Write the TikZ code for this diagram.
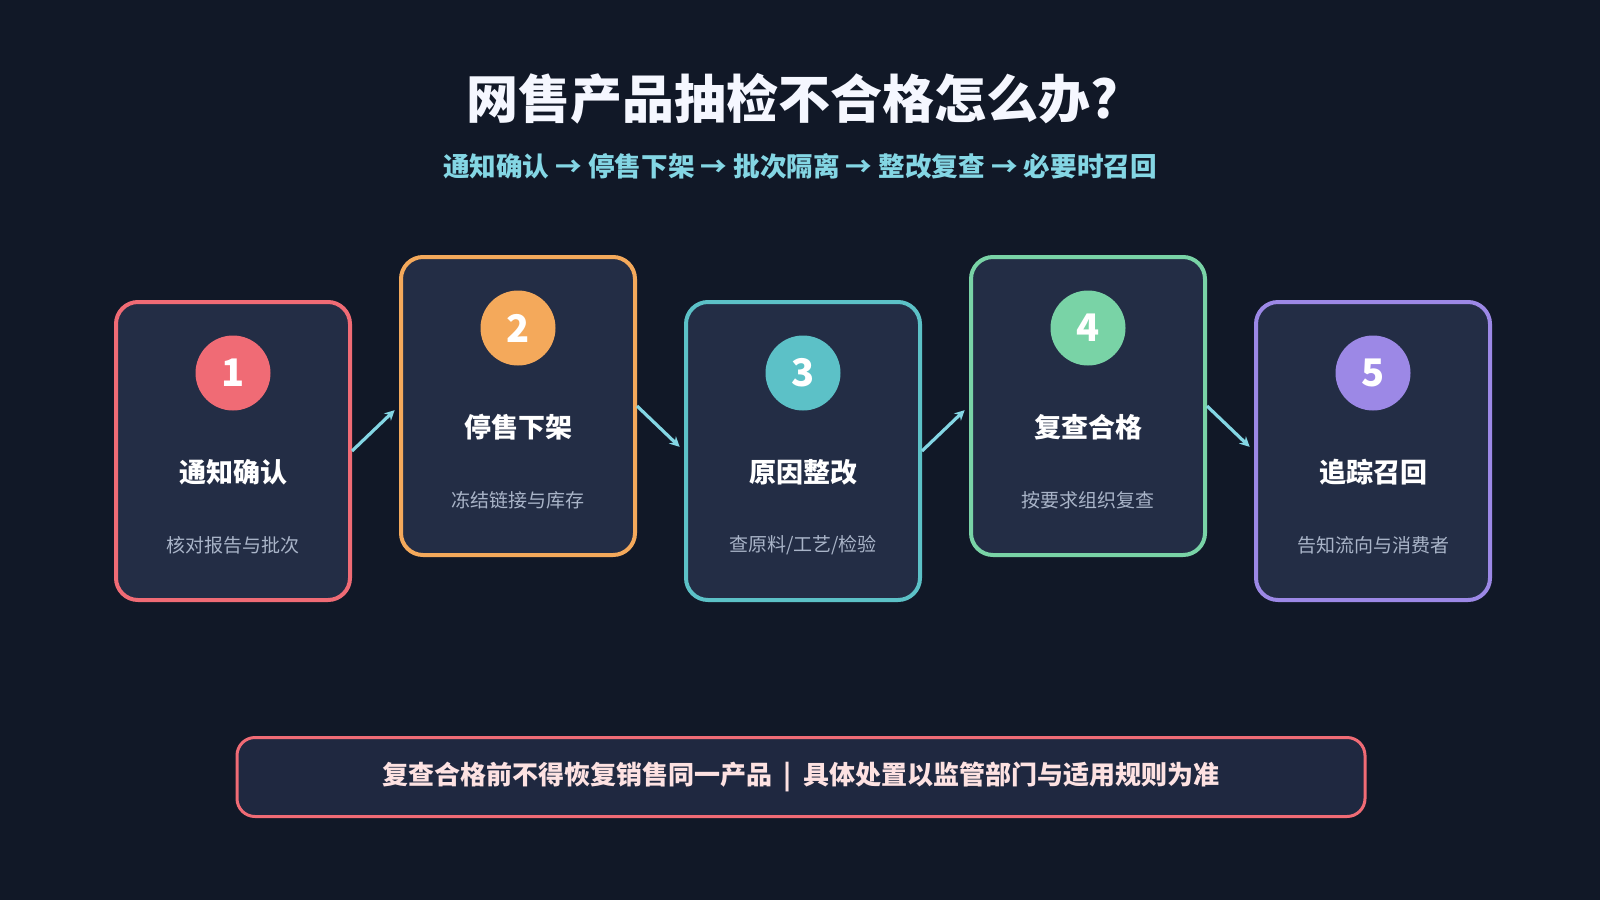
\documentclass[tikz,border=0pt]{standalone}
\usepackage{fontspec}
\setmainfont{Noto Sans CJK SC}
\usetikzlibrary{arrows.meta}
\definecolor{bgnavy}{HTML}{111827}
\definecolor{cardfill}{HTML}{232D45}
\definecolor{notefill}{HTML}{1F2840}
\definecolor{titlewhite}{HTML}{F5F7FF}
\definecolor{stepred}{HTML}{F06B75}
\definecolor{steporange}{HTML}{F4A95B}
\definecolor{stepteal}{HTML}{5CC1C7}
\definecolor{stepgreen}{HTML}{79D3A6}
\definecolor{steppurple}{HTML}{9C88E6}
\definecolor{flowcyan}{HTML}{84D6E4}
\definecolor{subgray}{HTML}{A9B4C8}
\definecolor{notepink}{HTML}{FDE2E2}
\tikzstyle{card} = [draw, fill=cardfill, line width=2pt, rounded corners=11pt, minimum width=117pt, minimum height=149pt, inner sep=0pt]
\tikzstyle{badge} = [circle, minimum size=37.5pt, inner sep=0pt, text=white, font=\fontsize{19}{19}\selectfont\bfseries]
\tikzstyle{cardtitle} = [text=white, font=\fontsize{13.5}{13.5}\selectfont\bfseries]
\tikzstyle{cardsub} = [text=subgray, font=\fontsize{9.5}{9.5}\selectfont]
\tikzstyle{flow} = [draw=flowcyan, line width=1.6pt, -{Stealth[length=5pt,width=5pt]}, shorten >=3pt]

\begin{document}
\begin{tikzpicture}[x=0.5pt, y=-0.5pt]
\fill[bgnavy] (0,0) rectangle (1600,900);
\useasboundingbox (0,0) rectangle (1600,900);

\node[text=titlewhite, font=\fontsize{26}{26}\selectfont\bfseries] (title) at (792,99) {网售产品抽检不合格怎么办?};
\node[text=flowcyan, font=\fontsize{13.3}{13.3}\selectfont\bfseries] (steps) at (800,166) {通知确认 → 停售下架 → 批次隔离 → 整改复查 → 必要时召回};

% step cards
\node[card, draw=stepred] (c1) at (233,451) {};
\node[card, draw=steporange] (c2) at (518,406) {};
\node[card, draw=stepteal] (c3) at (803,451) {};
\node[card, draw=stepgreen] (c4) at (1088,406) {};
\node[card, draw=steppurple] (c5) at (1373,451) {};

\node[badge, fill=stepred] (n1) at (233,373) {1};
\node[cardtitle] (t1) at (233,472) {通知确认};
\node[cardsub] (s1) at (233,545) {核对报告与批次};

\node[badge, fill=steporange] (n2) at (518,328) {2};
\node[cardtitle] (t2) at (518,427) {停售下架};
\node[cardsub] (s2) at (518,500) {冻结链接与库存};

\node[badge, fill=stepteal] (n3) at (803,373) {3};
\node[cardtitle] (t3) at (803,472) {原因整改};
\node[cardsub] (s3) at (803,545) {查原料/工艺/检验};

\node[badge, fill=stepgreen] (n4) at (1088,328) {4};
\node[cardtitle] (t4) at (1088,427) {复查合格};
\node[cardsub] (s4) at (1088,500) {按要求组织复查};

\node[badge, fill=steppurple] (n5) at (1373,373) {5};
\node[cardtitle] (t5) at (1373,472) {追踪召回};
\node[cardsub] (s5) at (1373,545) {告知流向与消费者};

\draw[flow] (c1.east) -- (c2.west);
\draw[flow] (c2.east) -- (c3.west);
\draw[flow] (c3.east) -- (c4.west);
\draw[flow] (c4.east) -- (c5.west);

% bottom note
\node[draw=stepred, fill=notefill, line width=1.5pt, rounded corners=9pt, minimum width=564pt, minimum height=39.5pt, text=notepink, font=\fontsize{13}{13}\selectfont\bfseries] (note) at (801,777) {复查合格前不得恢复销售同一产品 \ | \ 具体处置以监管部门与适用规则为准};
\end{tikzpicture}
\end{document}
